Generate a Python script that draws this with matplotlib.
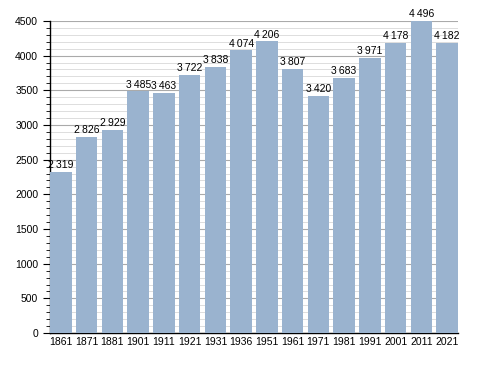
import numpy as np
import matplotlib.pyplot as plt
from matplotlib.ticker import MultipleLocator

plt.rcParams['font.family'] = ['Liberation Sans', 'DejaVu Sans']

years = ['1861', '1871', '1881', '1901', '1911', '1921', '1931', '1936',
         '1951', '1961', '1971', '1981', '1991', '2001', '2011', '2021']
population = [2319, 2826, 2929, 3485, 3463, 3722, 3838, 4074,
              4206, 3807, 3420, 3683, 3971, 4178, 4496, 4182]

fig = plt.figure(figsize=(4.88, 3.73), dpi=100)
ax = fig.add_axes([0.1025, 0.107, 0.836, 0.837])

x = np.arange(len(years))
w = 0.83
ax.bar(x, population, width=w, color='#9ab3cf', zorder=3)

for xi, v in zip(x, population):
    s = f'{v:,}'.replace(',', '\u2009')
    ax.text(xi, v + 25, s, ha='center', va='bottom', fontsize=7.5, zorder=4)

ax.set_xlim(-w / 2 - 0.01, len(years) - 1 + w / 2 + 0.01)
ax.set_ylim(0, 4500)
ax.set_xticks(x)
ax.set_xticklabels(years)
ax.yaxis.set_major_locator(MultipleLocator(500))
ax.yaxis.set_minor_locator(MultipleLocator(100))
ax.grid(axis='y', which='major', color='#aaaaaa', linewidth=0.8, zorder=0)
ax.grid(axis='y', which='minor', color='#dddddd', linewidth=0.7, zorder=0)

for side in ['top', 'right']:
    ax.spines[side].set_visible(False)
ax.spines['left'].set_linewidth(1)
ax.spines['bottom'].set_linewidth(1)
ax.tick_params(axis='x', length=0, labelsize=7.5, pad=3)
ax.tick_params(axis='y', which='major', length=5, labelsize=7.5)
ax.tick_params(axis='y', which='minor', length=3)

plt.savefig('out.png', dpi=100)
